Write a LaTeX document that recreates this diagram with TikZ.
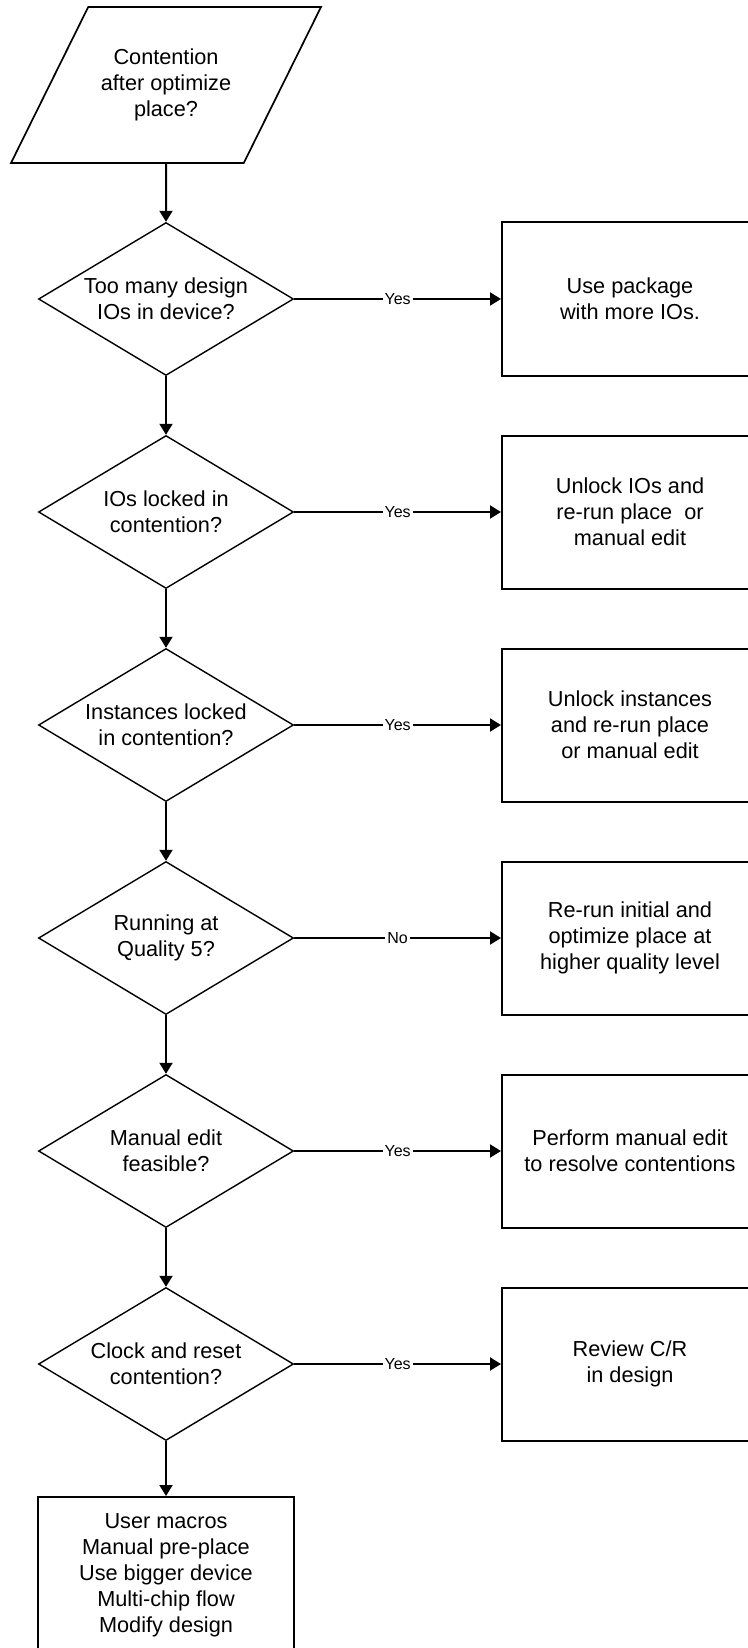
\documentclass[tikz,border=0pt]{standalone}
\usepackage{fontspec}
\setmainfont{Liberation Sans}
\usetikzlibrary{arrows.meta}
\usetikzlibrary{shapes.geometric}

\tikzset{
  chartfont/.style={font=\fontsize{10.85}{13}\selectfont},
  question/.style={diamond, draw, line width=0.7pt, inner sep=0pt, aspect=1.67,
    minimum width=127.5pt, minimum height=76.5pt, align=center, chartfont},
  action/.style={rectangle, draw, line width=1pt, inner sep=0pt,
    minimum width=128pt, minimum height=76.5pt, align=center, chartfont},
  entry/.style={trapezium, trapezium left angle=63.4, trapezium right angle=116.6,
    trapezium stretches body=true, draw, line width=0.85pt, inner xsep=0pt, inner ysep=20.5pt,
    minimum width=155pt, minimum height=78pt, align=center, chartfont},
  flow/.style={-{Triangle[length=5.5pt,width=6.5pt]}, line width=1pt},
  answer/.style={fill=white, inner sep=1pt, font=\fontsize{8}{9}\selectfont}
}

\begin{document}
\begin{tikzpicture}[x=0.5pt,y=-0.5pt]
        \useasboundingbox (0,0) rectangle (748,1648);
        \clip (0,0) rectangle (748,1648);
        \node[entry] (start) at (166,85) {Contention\\after optimize\\place?};
        \foreach \i/\y/\ask/\act/\ans in {
            1/299/{Too many design\\IOs in device?}/{Use package\\with more IOs.}/Yes,
            2/512/{IOs locked in\\contention?}/{Unlock IOs and\\re-run place~ or\\manual edit}/Yes,
            3/725/{Instances locked\\in contention?}/{Unlock instances\\and re-run place\\or manual edit}/Yes,
            4/938/{Running at\\Quality 5?}/{Re-run initial and\\optimize place at\\higher quality level}/No,
            5/1151/{Manual edit\\feasible?}/{Perform manual edit\\to resolve contentions}/Yes,
            6/1364/{Clock and reset\\contention?}/{Review C/R\\in design}/Yes}{
            \node[question] (q\i) at (166,\y) {\ask};
            \node[action] (a\i) at (630,\y) {\act};
            \draw[flow] (q\i) -- node[answer] {\ans} (a\i);
        }
        \node[action, minimum height=78pt] (last) at (166,1575)
            {User macros\\Manual pre-place\\Use bigger device\\Multi-chip flow\\Modify design};
        \draw[flow] (start) -- (q1);
        \foreach \i [count=\j from 2] in {1,...,5}{
            \draw[flow] (q\i) -- (q\j);
        }
        \draw[flow] (q6) -- (last);
    \end{tikzpicture}
\end{document}
